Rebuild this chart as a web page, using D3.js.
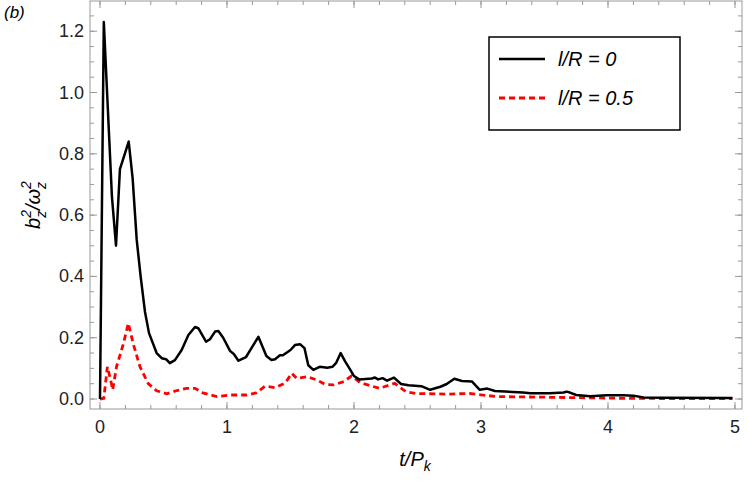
<!DOCTYPE html>
<html lang="en">
<head>
<meta charset="UTF-8">
<script src="https://d3js.org/d3.v7.min.js"></script>
<style>
* { margin: 0; padding: 0; }
body { background: #fff; }
text { font-family: "Liberation Sans", Arial, sans-serif; }
</style>
</head>
<body>
<script>
var width = 747, height = 481;
var padLeft = 90, padRight = 742, padTop = 1, padBottom = 409;

// l/R = 0
var t0 = [0,0.03,0.094,0.126,0.157,0.226,0.257,0.289,0.32,0.354,0.386,0.446,0.486,0.52,0.55,0.59,0.643,0.696,0.748,0.774,0.835,0.866,0.906,0.932,0.97,1.024,1.055,1.09,1.15,1.207,1.247,1.31,1.35,1.378,1.417,1.44,1.5,1.535,1.575,1.61,1.64,1.68,1.73,1.79,1.83,1.86,1.895,1.93,1.97,2.0,2.04,2.14,2.165,2.19,2.225,2.26,2.315,2.37,2.43,2.53,2.6,2.68,2.73,2.79,2.85,2.93,2.99,3.05,3.11,3.25,3.33,3.39,3.54,3.65,3.675,3.7,3.75,3.86,3.99,4.12,4.2,4.28,4.44,4.98];
var b0 = [0,1.23,0.66,0.50,0.75,0.84,0.72,0.52,0.40,0.285,0.215,0.15,0.133,0.13,0.117,0.127,0.16,0.209,0.235,0.231,0.187,0.195,0.22,0.222,0.20,0.157,0.146,0.125,0.137,0.176,0.203,0.14,0.127,0.13,0.143,0.143,0.16,0.176,0.179,0.166,0.11,0.095,0.105,0.102,0.105,0.118,0.15,0.123,0.096,0.075,0.064,0.067,0.07,0.064,0.068,0.06,0.07,0.049,0.045,0.042,0.03,0.04,0.049,0.066,0.059,0.057,0.03,0.034,0.026,0.023,0.021,0.019,0.019,0.021,0.024,0.021,0.013,0.009,0.012,0.012,0.011,0.005,0.004,0.003];
// l/R = 0.5
var t5 = [0,0.03,0.058,0.084,0.1,0.13,0.184,0.223,0.262,0.315,0.38,0.446,0.525,0.6,0.68,0.748,0.81,0.92,1.02,1.155,1.23,1.3,1.38,1.46,1.51,1.55,1.63,1.71,1.77,1.84,1.92,1.98,2.05,2.2,2.32,2.41,2.49,2.73,2.91,3.12,3.65,4.17,4.98];
var b5 = [0,0.002,0.105,0.062,0.03,0.105,0.18,0.247,0.18,0.105,0.05,0.027,0.017,0.027,0.035,0.035,0.02,0.008,0.013,0.013,0.02,0.042,0.037,0.053,0.084,0.067,0.073,0.062,0.048,0.046,0.057,0.075,0.053,0.035,0.051,0.024,0.018,0.016,0.018,0.008,0.005,0.002,0.001];

var xTicks = [0,1,2,3,4,5];
var yTicks = [0,0.2,0.4,0.6,0.8,1.0,1.2];

var svg = d3.select('body').append('svg').attr('width', width).attr('height', height);

var x = d3.scaleLinear().domain([-0.0787, 5.055]).range([padLeft, padRight]);
var y = d3.scaleLinear().domain([-0.0326, 1.2986]).range([padBottom, padTop]);

// frame
svg.append('rect').attr('x', padLeft).attr('y', padTop).attr('width', padRight - padLeft).attr('height', padBottom - padTop)
    .attr('fill', 'none').attr('stroke', '#999').attr('stroke-width', 1);

var minorX = d3.range(0, 5.01, 0.2), minorY = d3.range(0, 1.26, 0.05);
function tickLines(vals, isX, major) {
    var len = major ? 7 : 4;
    vals.forEach(function (v) {
        if (isX) {
            svg.append('line').attr('x1', x(v)).attr('x2', x(v)).attr('y1', padBottom).attr('y2', padBottom - len).attr('stroke', '#999');
            svg.append('line').attr('x1', x(v)).attr('x2', x(v)).attr('y1', padTop).attr('y2', padTop + len).attr('stroke', '#999');
        } else {
            svg.append('line').attr('y1', y(v)).attr('y2', y(v)).attr('x1', padLeft).attr('x2', padLeft + len).attr('stroke', '#999');
            svg.append('line').attr('y1', y(v)).attr('y2', y(v)).attr('x1', padRight).attr('x2', padRight - len).attr('stroke', '#999');
        }
    });
}
tickLines(minorX, true, false);
tickLines(xTicks, true, true);
tickLines(minorY, false, false);
tickLines(yTicks, false, true);

svg.selectAll('.xl').data(xTicks).enter().append('text')
    .attr('x', function (d) { return x(d); }).attr('y', padBottom + 24)
    .attr('text-anchor', 'middle').style('font-size', '18px').attr('fill', '#222')
    .text(function (d) { return d; });
svg.selectAll('.yl').data(yTicks).enter().append('text')
    .attr('x', padLeft - 6).attr('y', function (d) { return y(d) + 6; })
    .attr('text-anchor', 'end').style('font-size', '18px').attr('fill', '#222')
    .text(function (d) { return d.toFixed(1); });

// lines
var line = d3.line().x(function (d) { return x(d[0]); }).y(function (d) { return y(d[1]); });
svg.append('path').datum(d3.zip(t5, b5)).attr('d', line)
    .attr('fill', 'none').attr('stroke', '#f00').attr('stroke-width', 2.8).attr('stroke-dasharray', '6,4');
svg.append('path').datum(d3.zip(t0, b0)).attr('d', line)
    .attr('fill', 'none').attr('stroke', '#000').attr('stroke-width', 2.5).attr('stroke-linejoin', 'round');

// legend
svg.append('rect').attr('x', 489).attr('y', 37).attr('width', 191).attr('height', 93)
    .attr('fill', '#fff').attr('stroke', '#000').attr('stroke-width', 1.5);
svg.append('line').attr('x1', 499).attr('x2', 545).attr('y1', 59).attr('y2', 59).attr('stroke', '#000').attr('stroke-width', 2.5);
svg.append('line').attr('x1', 499).attr('x2', 545).attr('y1', 98).attr('y2', 98).attr('stroke', '#f00').attr('stroke-width', 2.8).attr('stroke-dasharray', '6,4');
svg.append('text').attr('x', 558).attr('y', 66).style('font-size', '20px').style('font-style', 'italic').text('l/R = 0');
svg.append('text').attr('x', 558).attr('y', 105).style('font-size', '20px').style('font-style', 'italic').text('l/R = 0.5');

// labels
svg.append('text').attr('x', 4).attr('y', 18).style('font-size', '17px').style('font-style', 'italic').text('(b)');
var yl = svg.append('text').attr('transform', 'translate(40,205) rotate(-90)').attr('text-anchor', 'middle')
    .style('font-size', '20px').style('font-style', 'italic');
yl.append('tspan').text('b');
yl.append('tspan').attr('dy', 6).style('font-size', '14px').text('z');
yl.append('tspan').attr('dy', -15).attr('dx', -7).style('font-size', '14px').text('2');
yl.append('tspan').attr('dy', 9).text('/ω');
yl.append('tspan').attr('dy', 6).style('font-size', '14px').text('z');
yl.append('tspan').attr('dy', -15).attr('dx', -7).style('font-size', '14px').text('2');
var xl = svg.append('text').attr('x', 415).attr('y', 466).attr('text-anchor', 'middle')
    .style('font-size', '20px').style('font-style', 'italic');
xl.append('tspan').text('t/P');
xl.append('tspan').attr('dy', 5).style('font-size', '14px').text('k');
</script>
</body>
</html>
